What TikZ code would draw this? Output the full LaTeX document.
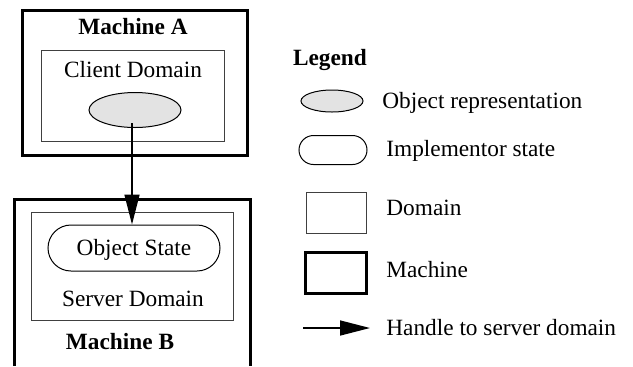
\documentclass[tikz,border=0pt]{standalone}
\usepackage{fontspec}
\setmainfont{Liberation Serif}
\usetikzlibrary{shapes.geometric,shapes.misc,arrows.meta}
\begin{document}
\begin{tikzpicture}[x=0.5pt,y=-0.5pt,
  txt/.style={font=\fontsize{11.65}{14}\selectfont, inner sep=0pt, text height=1.55ex, text depth=0.45ex, yshift=-1pt},
  bold/.style={txt, font=\fontsize{11.65}{14}\selectfont\bfseries},
  machinebox/.style={draw, line width=1.5pt, inner sep=0pt},
  domainbox/.style={draw=black!75, line width=0.5pt, inner sep=0pt},
  objrep/.style={draw, ellipse, fill=black!11, line width=0.5pt, inner sep=0pt},
  implstate/.style={draw, rounded rectangle, line width=0.5pt, inner sep=0pt},
  handle/.style={-{Triangle[length=15pt,width=7.5pt]}, line width=0.75pt}]

\useasboundingbox (0,0) rectangle (633,366);

% Machine A
\node[machinebox, minimum width=112.5pt, minimum height=72.5pt] (machA) at (134.5,82.5) {};
\node[bold] (machAlbl) at (133,27) {Machine A};
\node[domainbox, minimum width=91.5pt, minimum height=45.5pt] (client) at (132.5,95.5) {};
\node[txt] (clientlbl) at (133,70) {Client Domain};
\node[objrep, minimum width=46pt, minimum height=17.5pt] (obj) at (135,110) {};

% Machine B (cut off at the bottom)
\draw[line width=1.5pt] (14,366) -- (14,199) -- (250,199) -- (250,366);
\node[domainbox, minimum width=101pt, minimum height=54pt] (server) at (132,266) {};
\node[implstate, minimum width=86pt, minimum height=23pt] (state) at (134,248) {};
\node[txt] (statelbl) at (134,248) {Object State};
\node[txt] (serverlbl) at (133,299) {Server Domain};
\node[bold] (machBlbl) at (120,342) {Machine B};

% handle
\coordinate (hstart) at (132,123);
\draw[handle] (hstart) -- (hstart |- state.north);

% Legend
\node[bold] (legend) at (330,58) {Legend};
\node[objrep, minimum width=31pt, minimum height=11pt] (lobj) at (332,101) {};
\node[txt, anchor=west] (lobjlbl) at (382,101) {Object representation};
\node[implstate, minimum width=34pt, minimum height=14.5pt] (lstate) at (333,150) {};
\node[txt, anchor=west] (lstatelbl) at (386,149) {Implementor state};
\node[domainbox, minimum width=30pt, minimum height=20.5pt] (ldom) at (336,212.5) {};
\node[txt, anchor=west] (ldomlbl) at (386,208) {Domain};
\node[machinebox, minimum width=30.5pt, minimum height=20.5pt] (lmach) at (335.5,272.5) {};
\node[txt, anchor=west] (lmachlbl) at (386,270) {Machine};
\coordinate (larrow) at (303,328);
\node[txt, anchor=west] (lhandlelbl) at (386,328) {Handle to server domain};
\draw[handle] (larrow) -- ([xshift=-8pt,yshift=1pt]lhandlelbl.west);
\end{tikzpicture}
\end{document}
